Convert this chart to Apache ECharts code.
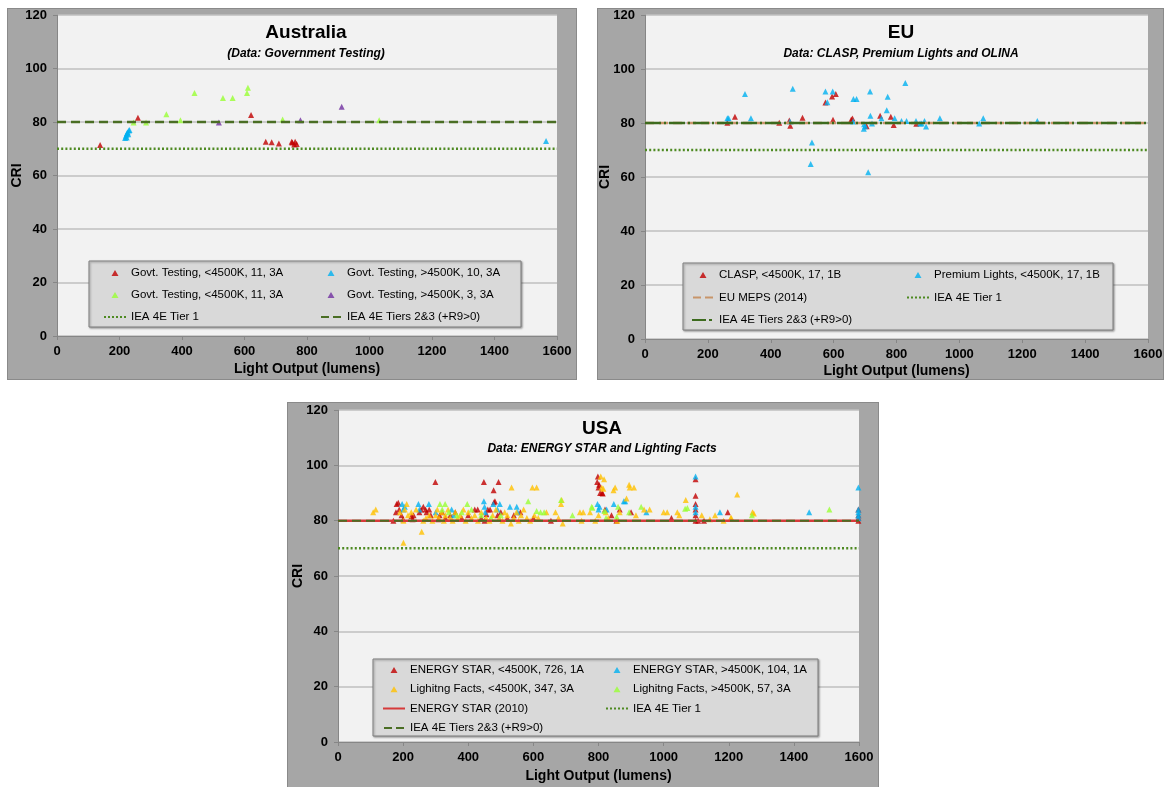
<!DOCTYPE html>
<html>
<head>
<meta charset="utf-8">
<script src="https://cdn.jsdelivr.net/npm/echarts@6/dist/echarts.min.js"></script>
<style>
  body { margin: 0; background: #fff; width: 1164px; height: 787px; position: relative; overflow: hidden; }
  .panel { position: absolute; background: #a6a6a6; outline: 1px solid #8a8a8a; outline-offset: -1px; }
</style>
</head>
<body>
<div id="aus" class="panel" style="left:7px;top:8px;width:570px;height:372px"></div>
<div id="eu" class="panel" style="left:597px;top:8px;width:567px;height:372px"></div>
<div id="usa" class="panel" style="left:287px;top:402px;width:592px;height:390px"></div>
<script>
// axis ranges (CRI vs lumens)
var xMax = 1600, xStep = 200;
var yMax = 120, yStep = 20;

// requirement levels
var tier1 = 70;       // IEA 4E Tier 1
var tier23 = 80;      // IEA 4E Tiers 2&3 (+R9>0)
var euMeps = 80;      // EU MEPS (2014)
var energyStar = 80;  // ENERGY STAR (2010)

// ---- Australia ----
var ausRedLow = [[138,71.4],[259,81.6],[621,82.6],[668,72.6],[687,72.4],[710,72],[751,72.6],[753,72.3],[759,71.6],[762,72.6],[767,71.8]];
var ausBlueHigh = [[218,74],[220,74.6],[222,75.2],[223,74.2],[224,75.8],[226,76.2],[228,75.4],[230,76.8],[232,77],[1565,72.9]];
var ausGreenLow = [[245,79.8],[285,79.8],[350,82.9],[395,80.7],[440,90.8],[531,89],[562,89],[608,90.8],[611,92.8],[722,80.9],[1031,80.7]];
var ausPurpleHigh = [[518,79.8],[779,80.7],[911,85.7]];

// ---- EU ----
var euClasp = [[262,80.1],[286,82.3],[427,80.1],[459,80.9],[462,79],[501,81.9],[574,87.6],[595,89.8],[598,81.2],[607,90.7],[656,81.3],[660,81.7],[705,78.8],[748,82.7],[782,82.3],[791,79.3],[863,79.7]];
var euPremium = [[262,81.8],[266,81.8],[318,90.7],[337,81.8],[461,80.6],[470,92.7],[527,64.8],[531,72.8],[574,91.7],[580,87.7],[597,91.7],[662,80.6],[663,88.9],[673,88.9],[696,77.9],[697,79.5],[700,78.8],[710,61.8],[716,91.7],[717,82.7],[722,79.8],[752,81.8],[769,84.7],[772,89.7],[794,81.8],[816,80.7],[828,94.8],[832,80.7],[862,80.7],[875,79.8],[880,79.8],[889,80.7],[894,78.7],[938,81.8],[1063,79.8],[1076,81.8],[1248,80.7]];

// ---- USA ----
var usRedLow = [[170,80],[178,83],[180,86],[185,86.5],[188,84],[195,82],[200,80.5],[226,81.7],[229,80.5],[232,82],[250,83],[255,84],[262,85],[269,84],[272,83],[280,84],[285,82],[299,94],[308,80.5],[312,82],[320,83],[330,81],[345,82],[360,83],[380,81],[400,82],[420,84],[429,84],[440,81],[448,94],[450,80],[456,82.3],[460,84],[467,84],[478,91],[479,86.7],[482,87],[490,82],[493,94],[500,83],[520,81],[540,82],[560,83],[600,81],[654,80],[796,94],[798,96],[800,92],[802,93],[805,90],[811,90],[813,89.8],[820,84],[840,82],[855,80],[865,84],[900,83],[1024,81],[1098,95],[1098,89],[1098,86],[1098,84],[1098,82],[1098,80],[1106,80],[1124,80],[1197,83],[1598,80],[1598,81],[1598,82],[1598,84]];
var usBlueHigh = [[197,86],[200,84],[205,85],[247,86],[250,84],[279,86],[300,83],[349,84],[355,82],[448,87],[450,85],[452,83],[477,86],[490,84],[497,86],[528,85],[549,85],[552,83],[797,86],[800,84],[803,85],[825,84],[847,86],[878,87],[882,87],[947,83],[1098,96],[1098,85],[1098,83],[1173,83],[1447,83],[1598,92],[1598,84],[1598,83],[1598,82],[1598,81]];
var usYellowLow = [[108,83],[116,84],[190,83],[201,72],[201,80],[205,84],[211,86],[215,82],[225,83],[240,84],[257,76],[262,80],[270,81],[280,82],[290,80],[300,82],[305,84],[310,81],[318,83],[325,80],[330,82],[338,84],[345,81],[352,80],[360,83],[368,81],[375,82],[385,84],[392,80],[400,83],[410,81],[420,82],[430,80],[440,83],[455,81],[465,80],[475,82],[485,84],[495,81],[505,80],[512,83],[520,82],[531,79],[533,92],[540,81],[548,83],[555,80],[562,82],[570,84],[580,81],[590,80],[597,92],[603,82],[610,92],[615,81],[640,83],[668,83],[677,81],[685,86],[687,87.5],[690,79],[743,83],[748,80],[753,83],[774,83],[790,80],[800,82],[807,96],[810,92],[815,91.5],[817,95],[822,83],[830,81],[846,91],[851,92],[858,80],[865,83],[886,88],[894,93],[896,92],[909,92],[915,82],[940,84],[957,84],[1000,83],[1011,83],[1042,83],[1048,82],[1068,87.5],[1117,82],[1142,80.5],[1158,82],[1184,80],[1206,81],[1208,81],[1226,89.5],[1273,83],[1277,82.6]];
var usGreenHigh = [[313,86],[320,84],[329,86],[340,83],[365,82],[380,83],[397,86],[410,84],[440,82],[470,81],[500,82],[584,87],[610,83.5],[622,83],[633,83],[685,87.5],[720,82],[779,85],[781,84.7],[818,83.5],[823,81],[856,81.4],[860,85],[894,83],[931,85],[1066,84.3],[1073,84.6],[1271,82],[1509,84]];

var FONT = '"Liberation Sans", Arial, sans-serif';
var RED = '#c00000', BLUE = '#00b0f0', LIME = '#99ff33', PURPLE = '#7030a0', AMBER = '#ffc000';
var DOT_GREEN = '#4e8a22', DASH_GREEN = '#4a6e24';

// legend icons, all 22x6 boxes (tiny corner squares pin the box size)
var BOX = 'M0,0h0.01v0.01h-0.01Z M21.99,5.99h0.01v0.01h-0.01Z ';
var ICON = {
  tri: 'path://' + BOX + 'M7.5,6L11,0L14.5,6Z',
  dot: 'path://' + BOX + 'M0,2h2v2h-2Z M4,2h2v2h-2Z M8,2h2v2h-2Z M12,2h2v2h-2Z M16,2h2v2h-2Z M20,2h2v2h-2Z',
  dash: 'path://' + BOX + 'M1,2h8v2h-8Z M13,2h8v2h-8Z',
  solid: 'path://' + BOX + 'M0,2h22v2h-22Z',
  dashDot: 'path://' + BOX + 'M0,2h14v2h-14Z M17,2h3v2h-3Z'
};

function sc(name, color, data) {
  return { type: 'scatter', name: name, data: data, symbol: 'triangle', symbolSize: 6,
    itemStyle: { color: color }, z: 3 };
}
function ln(name, y, color, type, width) {
  return { type: 'line', name: name, data: [[0, y], [xMax, y]], symbol: 'none', silent: true,
    lineStyle: { color: color, type: type, width: width, cap: 'butt' }, itemStyle: { color: color }, z: 4 };
}

function build(p) {
  var legText = { fontFamily: FONT, fontSize: 11.5, color: '#000', lineHeight: 14 };
  var legends = p.cols.map(function (col, i) {
    return { orient: 'vertical', left: p.colX[i], top: p.legTop, itemGap: p.legGap,
      itemWidth: 22, itemHeight: 6, textStyle: legText, selectedMode: false,
      data: col.map(function (it) { return { name: it[0], icon: ICON[it[1]] }; }) };
  });
  var label = function (m) {
    return { fontFamily: FONT, fontSize: 13, fontWeight: 'bold', color: '#000', margin: m,
      formatter: function (v) { return String(v); } };
  };
  var nameStyle = { fontFamily: FONT, fontSize: 14, fontWeight: 'bold', color: '#000' };
  var axisGray = { show: true, lineStyle: { color: '#868686' } };
  return {
    animation: false,
    title: { text: p.title, subtext: p.sub, left: p.titleX, top: p.titleTop, textAlign: 'center', itemGap: p.titleGap,
      textStyle: { fontFamily: FONT, fontSize: 19, fontWeight: 'bold', color: '#000' },
      subtextStyle: { fontFamily: FONT, fontSize: 12, fontWeight: 'bold', fontStyle: 'italic', color: '#000' } },
    grid: Object.assign({ show: true, backgroundColor: '#f2f2f2', borderWidth: 0, containLabel: false, outerBoundsMode: 'none' }, p.grid),
    graphic: [{ type: 'rect', z: 1, shape: p.box,
      style: { fill: '#d9d9d9', stroke: '#7f7f7f', lineWidth: 1, shadowBlur: 2, shadowOffsetX: 1, shadowOffsetY: 1, shadowColor: 'rgba(0,0,0,0.35)' } }],
    legend: legends,
    xAxis: { type: 'value', min: 0, max: xMax, interval: xStep,
      name: 'Light Output (lumens)', nameLocation: 'middle', nameGap: p.xNameGap, nameTextStyle: nameStyle, nameMoveOverlap: false,
      axisLine: axisGray, axisTick: { show: true, length: 4, lineStyle: { color: '#868686' } },
      axisLabel: label(9), splitLine: { show: false } },
    yAxis: { type: 'value', min: 0, max: yMax, interval: yStep,
      name: 'CRI', nameLocation: 'middle', nameGap: 33, nameTextStyle: nameStyle, nameMoveOverlap: false,
      axisLine: axisGray, axisTick: { show: true, length: 4, lineStyle: { color: '#868686' } },
      axisLabel: label(10), splitLine: { show: true, lineStyle: { color: '#bfbfbf', width: 1.5 } } },
    series: p.series
  };
}

var dotted = [2, 2.2], dashed = [9, 5];

var ausNames = ['Govt. Testing, <4500K, 11, 3A', 'Govt. Testing, >4500K, 10, 3A', 'Govt. Testing, <4500K, 11, 3A ', 'Govt. Testing, >4500K, 3, 3A', 'IEA 4E Tier 1', 'IEA 4E Tiers 2&3 (+R9>0)'];
echarts.init(document.getElementById('aus')).setOption(build({
  title: 'Australia', sub: '(Data: Government Testing)', titleX: 294, titleTop: 10, titleGap: 6,
  grid: { left: 50, right: 20, top: 7, bottom: 44 }, xNameGap: 26,
  box: { x: 82, y: 253, width: 432, height: 66 },
  cols: [[[ausNames[0], 'tri'], [ausNames[2], 'tri'], [ausNames[4], 'dot']],
         [[ausNames[1], 'tri'], [ausNames[3], 'tri'], [ausNames[5], 'dash']]],
  colX: [92, 308], legTop: 253, legGap: 8,
  series: [
    sc(ausNames[0], RED, ausRedLow),
    sc(ausNames[1], BLUE, ausBlueHigh),
    sc(ausNames[2], LIME, ausGreenLow),
    sc(ausNames[3], PURPLE, ausPurpleHigh),
    ln(ausNames[4], tier1, DOT_GREEN, dotted, 2.5),
    ln(ausNames[5], tier23, DASH_GREEN, dashed, 2.5)
  ]
}));

var euNames = ['CLASP, <4500K, 17, 1B', 'Premium Lights, <4500K, 17, 1B', 'EU MEPS (2014)', 'IEA 4E Tier 1', 'IEA 4E Tiers 2&3 (+R9>0)'];
echarts.init(document.getElementById('eu')).setOption(build({
  title: 'EU', sub: 'Data: CLASP, Premium Lights and OLINA', titleX: 299, titleTop: 10, titleGap: 6,
  grid: { left: 48, right: 16, top: 7, bottom: 41 }, xNameGap: 25,
  box: { x: 86, y: 255, width: 430, height: 67 },
  cols: [[[euNames[0], 'tri'], [euNames[2], 'dash'], [euNames[4], 'dashDot']],
         [[euNames[1], 'tri'], [euNames[3], 'dot']]],
  colX: [90, 305], legTop: 255, legGap: 8.5,
  series: [
    sc(euNames[0], RED, euClasp),
    sc(euNames[1], BLUE, euPremium),
    ln(euNames[2], euMeps, '#c8956a', dashed, 2.5),
    ln(euNames[3], tier1, DOT_GREEN, dotted, 2.5),
    ln(euNames[4], tier23, '#3d6b1e', [16, 3, 2, 3], 2.5)
  ]
}));

var usNames = ['ENERGY STAR, <4500K, 726, 1A', 'ENERGY STAR, >4500K, 104, 1A', 'Lighitng Facts, <4500K, 347, 3A', 'Lighitng Facts, >4500K, 57, 3A', 'ENERGY STAR (2010)', 'IEA 4E Tier 1', 'IEA 4E Tiers 2&3 (+R9>0)'];
echarts.init(document.getElementById('usa')).setOption(build({
  title: 'USA', sub: 'Data: ENERGY STAR and Lighting Facts', titleX: 310, titleTop: 12, titleGap: 5,
  grid: { left: 51, right: 20, top: 8, bottom: 50 }, xNameGap: 27,
  box: { x: 86, y: 257, width: 445, height: 77 },
  cols: [[[usNames[0], 'tri'], [usNames[2], 'tri'], [usNames[4], 'solid'], [usNames[6], 'dash']],
         [[usNames[1], 'tri'], [usNames[3], 'tri'], [usNames[5], 'dot']]],
  colX: [91, 314], legTop: 256, legGap: 5.3,
  series: [
    sc(usNames[0], RED, usRedLow),
    sc(usNames[1], BLUE, usBlueHigh),
    sc(usNames[2], AMBER, usYellowLow),
    sc(usNames[3], LIME, usGreenHigh),
    ln(usNames[4], energyStar, '#d63a3a', 'solid', 2.5),
    ln(usNames[5], tier1, DOT_GREEN, dotted, 2.5),
    ln(usNames[6], tier23, DASH_GREEN, dashed, 2)
  ]
}));
</script>
</body>
</html>
